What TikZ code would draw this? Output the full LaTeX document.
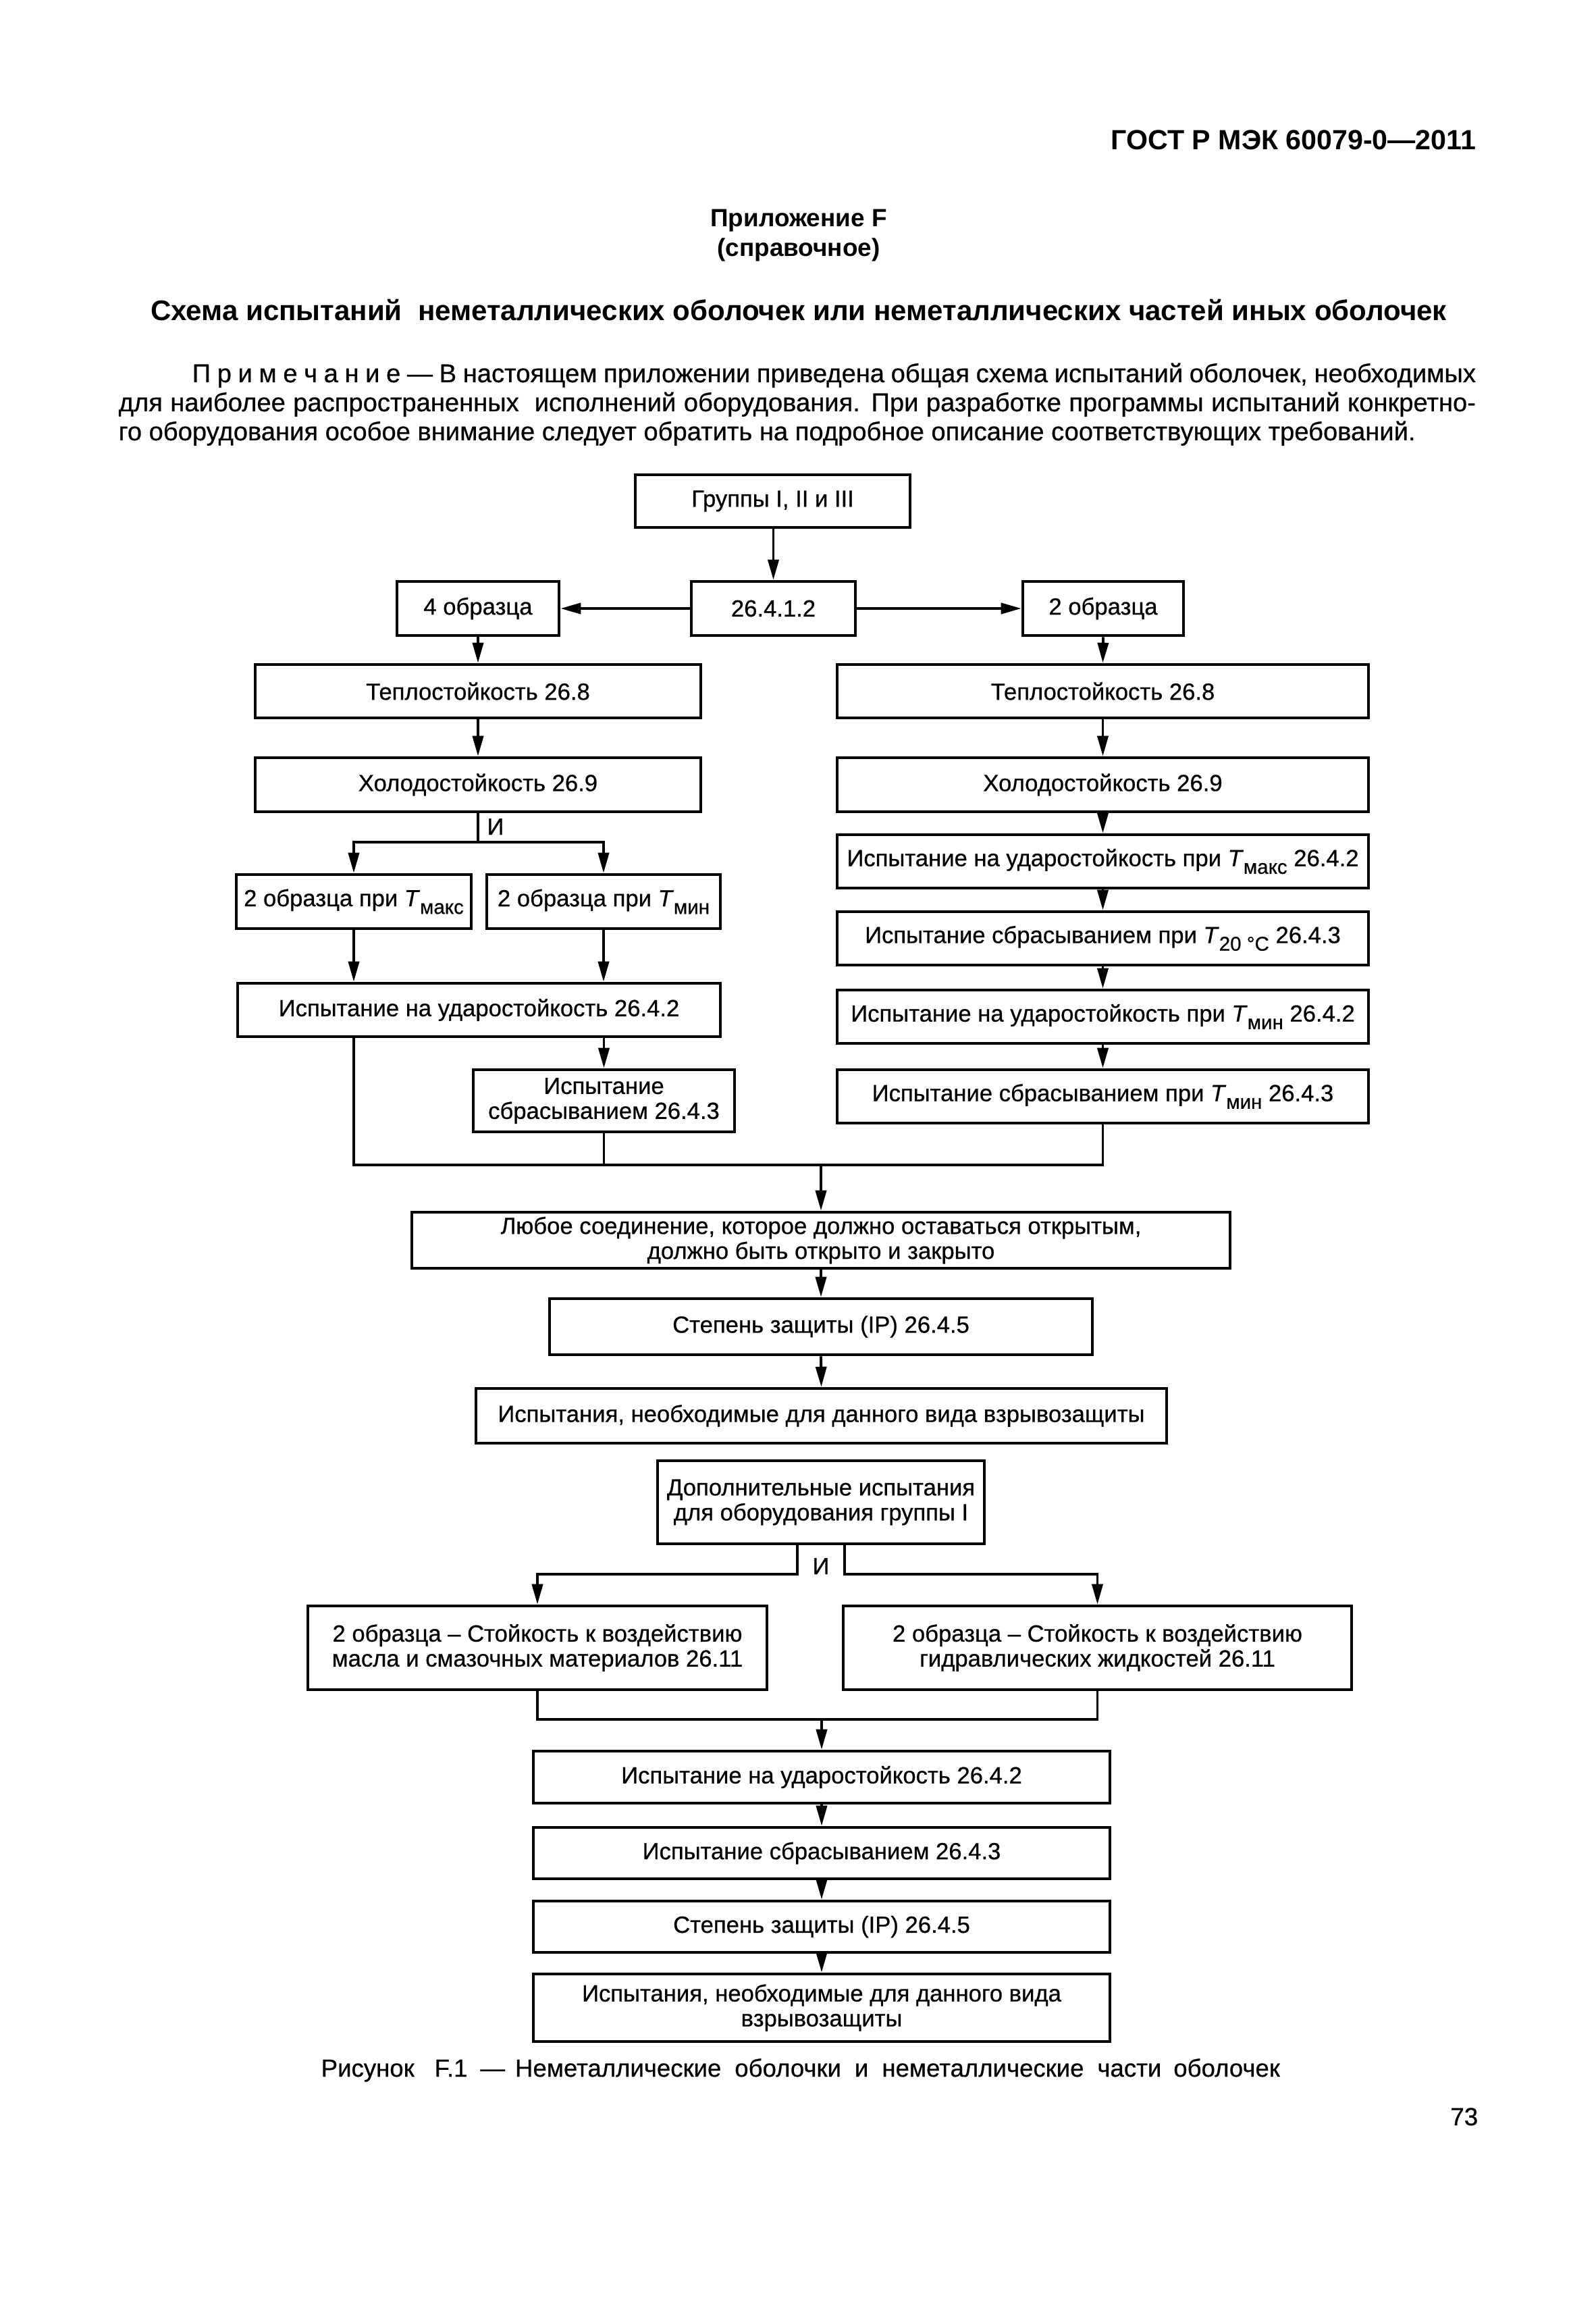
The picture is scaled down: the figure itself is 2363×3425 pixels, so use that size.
\documentclass[tikz,border=0pt]{standalone}
\usepackage{fontspec}
\setmainfont{Liberation Sans}
\newfontfamily\heavy{Liberation Sans}[FakeBold=0.6]
\usetikzlibrary{arrows.meta,calc}
\newcommand\bxfont{\heavy\fontsize{9.85}{10.5}\selectfont}
\newcommand\mysub[1]{\raisebox{-3.2pt}{\fontsize{8.4}{9}\selectfont #1}}
\newcommand\Tm[1]{\textit{T}\mysub{#1}}
\newcommand\bxn[6]{\node[bx, minimum width={(#4-#2)*0.01cm}, minimum height={(#5-#3)*0.01cm}] (#1) at ({(#2+#4)/2},{(#3+#5)/2}) {#6};}
\begin{document}
\begin{tikzpicture}[x=0.01cm,y=-0.01cm,
  bx/.style={draw, line width=1.3pt, inner sep=0pt, align=center, font=\bxfont},
  ln/.style={line width=1.1pt},
  ar/.style={ln, -{Triangle[length=0.3cm,width=0.16cm]}}]
\useasboundingbox (0,0) rectangle (2363,3425);
\fill[white] (0,0) rectangle (2363,3425);

% page texts
\node[anchor=base east, inner sep=0pt, font=\bfseries\fontsize{11.7}{13}\selectfont] (hdr) at (2187,222) {ГОСТ Р МЭК 60079-0—2011};
\node[anchor=base, font=\bfseries\fontsize{10.5}{12}\selectfont] (app) at (1183,336) {Приложение F};
\node[anchor=base, font=\bfseries\fontsize{10.5}{12}\selectfont] (app2) at (1183,380) {(справочное)};
\node[anchor=base, font=\bfseries\fontsize{11.95}{13}\selectfont] (ttl) at (1183,475) {Схема испытаний\ \ неметаллических оболочек или неметаллических частей иных оболочек};
\node[anchor=base west, inner sep=0pt, font=\heavy\fontsize{10.85}{13}\selectfont] (nt1) at (284,566) {\makebox[19.0cm][s]{П р и м е ч а н и е — В настоящем приложении приведена общая схема испытаний оболочек, необходимых}};
\node[anchor=base west, inner sep=0pt, font=\heavy\fontsize{10.85}{13}\selectfont] (nt2) at (175,609) {\makebox[20.09cm][s]{для наиболее распространенных\ \ исполнений оборудования. При разработке программы испытаний конкретно-}};
\node[anchor=base west, inner sep=0pt, font=\heavy\fontsize{10.85}{13}\selectfont] (nt3) at (175,652) {го оборудования особое внимание следует обратить на подробное описание соответствующих требований.};

% boxes
\bxn{g1}{941}{703}{1348}{781}{Группы I, II и III}
\bxn{n2}{1024}{861}{1267}{941}{26.4.1.2}
\bxn{n3}{588}{861}{828}{941}{4 образца}
\bxn{n4}{1515}{861}{1753}{941}{2 образца}
\bxn{L1}{378}{984}{1038}{1063}{Теплостойкость 26.8}
\bxn{R1}{1240}{984}{2027}{1063}{Теплостойкость 26.8}
\bxn{L2}{378}{1122}{1038}{1202}{Холодостойкость 26.9}
\bxn{R2}{1240}{1122}{2027}{1202}{Холодостойкость 26.9}
\bxn{L3a}{350}{1295}{698}{1375}{2 образца при \Tm{макс}}
\bxn{L3b}{721}{1295}{1067}{1375}{2 образца при \Tm{мин}}
\bxn{R3}{1240}{1236}{2027}{1315}{Испытание на ударостойкость при \Tm{макс} 26.4.2}
\bxn{R4}{1240}{1350}{2027}{1429}{Испытание сбрасыванием при \Tm{20 °C} 26.4.3}
\bxn{L4}{352}{1456}{1067}{1535}{Испытание на ударостойкость 26.4.2}
\bxn{R5}{1240}{1466}{2027}{1545}{Испытание на ударостойкость при \Tm{мин} 26.4.2}
\bxn{L5}{701}{1584}{1088}{1676}{Испытание\\сбрасыванием 26.4.3}
\bxn{R6}{1240}{1584}{2027}{1663}{Испытание сбрасыванием при \Tm{мин} 26.4.3}
\bxn{C1}{610}{1795}{1822}{1878}{Любое соединение, которое должно оставаться открытым,\\должно быть открыто и закрыто}
\bxn{C2}{814}{1923}{1618}{2006}{Степень защиты (IP) 26.4.5}
\bxn{C3}{705}{2056}{1728}{2137}{Испытания, необходимые для данного вида взрывозащиты}
\bxn{C4}{974}{2163}{1458}{2286}{Дополнительные испытания\\для оборудования группы I}
\bxn{D1}{456}{2378}{1136}{2502}{2 образца – Стойкость к воздействию\\масла и смазочных материалов 26.11}
\bxn{D2}{1249}{2378}{2002}{2502}{2 образца – Стойкость к воздействию\\гидравлических жидкостей 26.11}
\bxn{E1}{790}{2593}{1644}{2670}{Испытание на ударостойкость 26.4.2}
\bxn{E2}{790}{2706}{1644}{2782}{Испытание сбрасыванием 26.4.3}
\bxn{E3}{790}{2815}{1644}{2891}{Степень защиты (IP) 26.4.5}
\bxn{E4}{790}{2923}{1644}{3023}{Испытания, необходимые для данного вида\\взрывозащиты}

% labels
\node[font=\bxfont, anchor=base] (i1) at (734,1236) {И};
\node[font=\bxfont, anchor=base] (i2) at (1216,2331) {И};

% connectors
\draw[ar] (g1.south -| n2.north) -- (n2.north);
\draw[ar] (n2.west) -- (n3.east);
\draw[ar] (n2.east) -- (n4.west);
\draw[ar] (n3.south) -- (L1.north);
\draw[ar] (L1.south) -- (L2.north);
\draw[ar] (n4.south) -- (R1.north);
\draw[ar] (R1.south) -- (R2.north);
\draw[ar] (R2.south) -- (R3.north);
\draw[ar] (R3.south) -- (R4.north);
\draw[ar] (R4.south) -- (R5.north);
\draw[ar] (R5.south) -- (R6.north);

\draw[ln] (L2.south) -- ++(0,43) coordinate (jl);
\draw[ar] (jl) -| (L3a.north);
\draw[ar] (jl) -| (L3b.north);
\draw[ar] (L3a.south) -- (L3a.south |- L4.north);
\draw[ar] (L3b.south) -- (L3b.south |- L4.north);
\draw[ar] (L5.north |- L4.south) -- (L5.north);

\coordinate (j1) at ($(C1.north)+(0,-68)$);
\draw[ln] (L3a.south |- L4.south) -- (L3a.south |- j1) -- (R6.south |- j1) -- (R6.south);
\draw[ln] (L5.south) -- (L5.south |- j1);
\draw[ar] (j1) -- (C1.north);
\draw[ar] (C1.south) -- (C2.north);
\draw[ar] (C2.south) -- (C3.north);

\draw[ar] ($(C4.south)+(-35,0)$) |- ($(D1.north)+(0,-45)$) -- (D1.north);
\draw[ar] ($(C4.south)+(35,0)$) |- ($(D2.north)+(0,-45)$) -- (D2.north);

\coordinate (j2) at ($(E1.north)+(0,-45)$);
\draw[ln] (D1.south) -- (D1.south |- j2) -- (D2.south |- j2) -- (D2.south);
\draw[ar] (j2) -- (E1.north);
\draw[ar] (E1.south) -- (E2.north);
\draw[ar] (E2.south) -- (E3.north);
\draw[ar] (E3.south) -- (E4.north);

% caption and page number
\node[anchor=base west, inner sep=0pt, font=\heavy\fontsize{10.4}{12}\selectfont] (cap) at (475,3075) {Рисунок\hspace{0.3cm}F.1\hspace{0.19cm}—\hspace{0.15cm}Неметаллические\hspace{0.2cm}оболочки\hspace{0.2cm}и\hspace{0.2cm}неметаллические\hspace{0.2cm}части\hspace{0.18cm}оболочек};
\node[anchor=base east, inner sep=0pt, font=\heavy\fontsize{10.5}{12}\selectfont] (pg) at (2190,3147) {73};
\end{tikzpicture}
\end{document}
